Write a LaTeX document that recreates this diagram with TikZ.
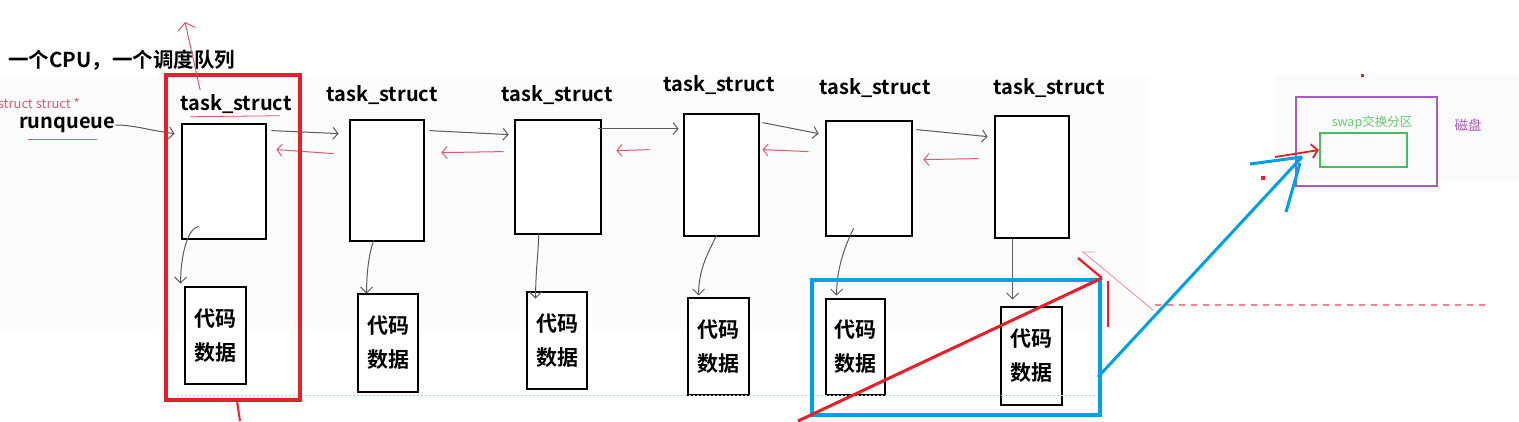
\documentclass[tikz,border=0pt]{standalone}
\usepackage{fontspec}
\setmainfont{Noto Sans CJK SC}[BoldFont={Noto Sans CJK SC Bold}]
\usetikzlibrary{arrows.meta,calc}
\definecolor{hred}{RGB}{232,30,40}
\definecolor{pinkred}{RGB}{220,90,110}
\definecolor{hblue}{RGB}{0,160,228}
\definecolor{hpurple}{RGB}{170,90,190}
\definecolor{hgreen}{RGB}{70,190,90}
\definecolor{linkgray}{RGB}{90,90,90}
\tikzset{
  tbox/.style={draw=black,line width=2.8pt,fill=white,inner sep=0pt},
  dbox/.style={draw=black,line width=2.8pt,fill=white,inner sep=0pt,align=center,font=\bfseries\fontsize{21}{34}\selectfont},
  lab/.style={font=\bfseries\fontsize{20}{22}\selectfont,inner sep=0pt},
  link/.style={draw=linkgray,line width=1pt,-{Straight Barb[length=5pt,width=12pt]}},
  back/.style={draw=pinkred,line width=1pt,-{Straight Barb[length=5pt,width=12pt]}},
  down/.style={draw=linkgray,line width=1pt,-{Straight Barb[length=6pt,width=12pt]}},
  thickred/.style={draw=hred,line width=3.6pt},
  thickblue/.style={draw=hblue,line width=3.6pt},
}
\begin{document}
\begin{tikzpicture}[x=1pt,y=-1pt]
\useasboundingbox (0,0) rectangle (1519,421);
\fill[white] (0,0) rectangle (1519,421);
\fill[gray!2] (0,75) rectangle (1150,330);
\fill[gray!3] (1275,75) rectangle (1519,182);

% title texts
\node[font=\bfseries\fontsize{20.5}{22}\selectfont,inner sep=0pt,anchor=west] (title) at (8,60) {一个CPU，一个调度队列};
\node[font=\fontsize{13}{14}\selectfont,text=pinkred,inner sep=0pt,anchor=east] (ptr) at (80,103) {struct struct *};
\node[font=\bfseries\fontsize{20}{22}\selectfont,inner sep=0pt,anchor=west] (rq) at (19,125) {runqueue};
\draw[pinkred,line width=0.8pt] ($(rq.south west)+(9,6)$) -- ($(rq.south east)+(-18,6)$);

% task_struct boxes
\node[tbox,minimum width=84pt,minimum height=115pt] (t1) at (224,181.5) {};
\node[tbox,minimum width=74pt,minimum height=121pt] (t2) at (387,180.5) {};
\node[tbox,minimum width=86pt,minimum height=114pt] (t3) at (558,177) {};
\node[tbox,minimum width=75pt,minimum height=122pt] (t4) at (721.5,175) {};
\node[tbox,minimum width=86pt,minimum height=115pt] (t5) at (869,178.5) {};
\node[tbox,minimum width=74pt,minimum height=122pt] (t6) at (1032,177) {};

\node[lab] (l1) at (236,104) {task\_struct};
\node[lab] (l2) at (382,95) {task\_struct};
\node[lab] (l3) at (557,95) {task\_struct};
\node[lab] (l4) at (719,85) {task\_struct};
\node[lab] (l5) at (875,88) {task\_struct};
\node[lab] (l6) at (1049,88) {task\_struct};
\draw[pinkred,line width=0.8pt] ($(l1.south west)+(10,3)$) -- ($(l1.south east)+(-12,2)$);

% code/data boxes
\node[dbox,minimum width=61pt,minimum height=97pt] (d1) at (215.5,335.5) {代码\\数据};
\node[dbox,minimum width=60pt,minimum height=98pt] (d2) at (388,343) {代码\\数据};
\node[dbox,minimum width=60pt,minimum height=97pt] (d3) at (557,340.5) {代码\\数据};
\node[dbox,minimum width=61pt,minimum height=97pt] (d4) at (718.5,346.5) {代码\\数据};
\node[dbox,minimum width=59pt,minimum height=96pt] (d5) at (855.5,347) {代码\\数据};
\node[dbox,minimum width=61pt,minimum height=98pt] (d6) at (1031.5,356) {代码\\数据};

% runqueue -> first
\draw[link] (rq.east) .. controls +(20,0) and +(-25,-3) .. ($(t1.north west)+(-6,11)$);

% forward links
\draw[link] ($(t1.north east)+(4,8)$) -- ($(t2.north west)+(-10,15)$);
\draw[link] ($(t2.north east)+(4,12)$) -- ($(t3.north west)+(-5,16)$);
\draw[link] ($(t3.north east)+(-4,10)$) -- ($(t4.north west)+(-4,16)$);
\draw[link] ($(t4.north east)+(2,10)$) -- ($(t5.north west)+(-6,14)$);
\draw[link] ($(t5.north east)+(3,10)$) -- ($(t6.north west)+(-6,22)$);

% backward links
\draw[back] ($(t2.north west)+(-15,35)$) -- ($(t1.north east)+(9,27)$);
\draw[back] ($(t3.north west)+(-10,33)$) -- ($(t2.north east)+(16,34)$);
\draw[back] ($(t4.north west)+(-33,37)$) -- ($(t3.north east)+(14,32)$);
\draw[back] ($(t5.north west)+(-16,32)$) -- ($(t4.north east)+(2,37)$);
\draw[back] ($(t6.north west)+(-15,44)$) -- ($(t5.north east)+(10,40)$);

% down arrows
\draw[down] ($(t1.south west)+(18,-14)$) .. controls +(-12,2) and +(0,-25) .. ($(d1.north west)+(-3,-2)$);
\draw[down] ($(t2.south west)+(25,-2)$) .. controls +(-4,12) and +(0,-25) .. ($(d2.north west)+(10,1)$);
\draw[down] ($(t3.south west)+(25,-2)$) .. controls +(0,20) and +(0,-30) .. ($(d3.north west)+(10,8)$);
\draw[down] ($(t4.south west)+(34,-2)$) .. controls +(-10,20) and +(0,-25) .. ($(d4.north west)+(12,-1)$);
\draw[down] ($(t5.south west)+(29,-9)$) .. controls +(-10,20) and +(0,-25) .. ($(d5.north west)+(12,-2)$);
\draw[down] ($(t6.south west)+(19,0)$) -- ($(d6.north west)+(13,-6)$);

% dotted baseline
\draw[draw=gray!45!cyan!50,line width=0.7pt,dash pattern=on 2pt off 2pt] (177,395) -- (1098,395);

% red highlight box and arrow
\draw[thickred] (166,75) rectangle (300,400);
\draw[hred,line width=2pt] (237,401) -- (240,421);
\coordinate (tipA) at (185,22);
\draw[draw=pinkred,line width=1pt,-{Straight Barb[length=7pt,width=18pt]}] ($(l1.north west)+(20,-4)$) -- (tipA);

% blue highlight box
\draw[thickblue] (812,280) rectangle (1100,415);

% red diagonal with arrow
\coordinate (rd) at (1102,278);
\draw[hred,line width=3pt] (798,421) -- (rd);
\draw[hred,line width=2.2pt] (1078,258) -- (rd);
\draw[hred,line width=2.2pt] (1108,281) -- (1108,327);
\draw[pinkred!70,line width=0.8pt] (1095,252) -- (1083,252) -- (1153,310);
\draw[hred!55,line width=1.2pt,dash pattern=on 6pt off 6pt] (1155,305) -- (1490,305);

% disk
\draw[hpurple,line width=2.5pt] (1296,97) rectangle (1437,186);
\node[draw=hgreen,line width=2.2pt,minimum width=87pt,minimum height=34pt,inner sep=0pt] (swap) at (1363.5,150) {};
\node[font=\fontsize{12.5}{14}\selectfont,text=hgreen!85!white,inner sep=0pt] (swaplab) at (1372,123) {swap交换分区};
\node[font=\fontsize{13.5}{15}\selectfont,text=hpurple,inner sep=0pt] (disk) at (1468,125) {磁盘};

% blue lines to swap
\coordinate (bt) at (1302,157);
\draw[thickblue,line width=3pt] (1098,377) -- (bt);
\draw[thickblue,line width=3pt] (1250,164) -- (bt);
\draw[thickblue,line width=3pt] (1286,212) -- (1300,163);
\draw[hred,line width=1.8pt,-{Straight Barb[length=6pt,width=14pt]}] (1275,157) -- (swap.west);
\fill[hred] (1261,176) rectangle (1265,180);
\fill[hred] (1361,74) rectangle (1364,77);
\end{tikzpicture}
\end{document}
